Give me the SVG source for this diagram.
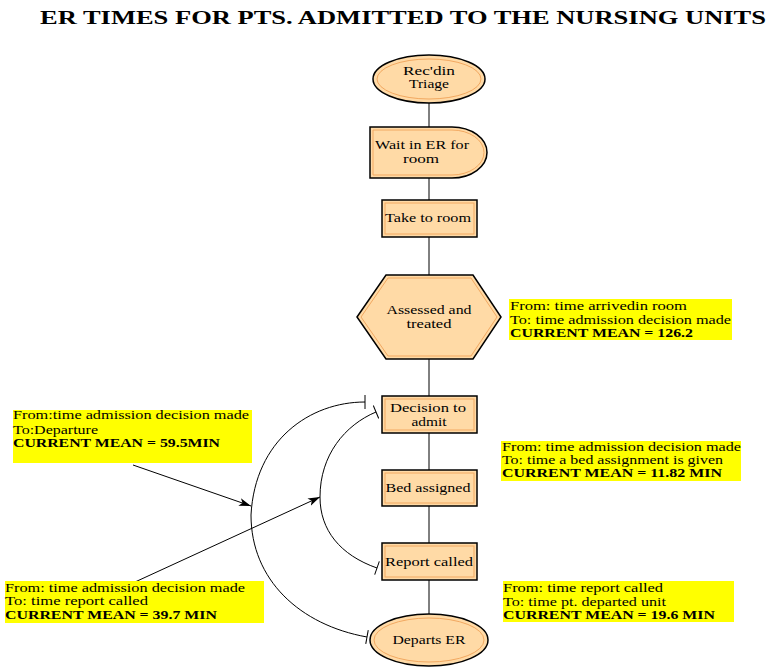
<svg xmlns="http://www.w3.org/2000/svg" width="776" height="672" viewBox="0 0 776 672">
<style>
.shape{fill:#FFDAA6;stroke:#000;stroke-width:1.5}
.inner{fill:none;stroke:#F2A860;stroke-width:1}
.nt{font-family:"Liberation Serif","Times New Roman",serif;font-size:12.5px;fill:#000;text-anchor:middle}
.bt{font-family:"Liberation Serif","Times New Roman",serif;font-size:12px;fill:#000}
.bb{font-family:"Liberation Serif","Times New Roman",serif;font-size:12px;font-weight:bold;fill:#000}
.yb{fill:#FFFF00}
.conn{fill:none;stroke:#000;stroke-width:1}
</style>
<defs>
<marker id="arr" markerUnits="userSpaceOnUse" markerWidth="14" markerHeight="10" refX="12" refY="4" orient="auto">
<path d="M0,0 L12,4 L0,8 L3,4 Z" fill="#000"/>
</marker>
<marker id="tee" markerUnits="userSpaceOnUse" markerWidth="4" markerHeight="14" refX="1" refY="7" orient="auto">
<path d="M1,0 L1,14" stroke="#000" stroke-width="1"/>
</marker>
</defs>
<rect width="776" height="672" fill="#fff"/>
<text x="403" y="24" font-family="Liberation Serif,'Times New Roman',serif" font-size="19" font-weight="bold" text-anchor="middle" textLength="726" lengthAdjust="spacingAndGlyphs">ER TIMES FOR PTS. ADMITTED TO THE NURSING UNITS</text>

<g id="connectors">
<line class="conn" x1="429" y1="103" x2="429" y2="127"/>
<line class="conn" x1="429" y1="178" x2="429" y2="200"/>
<line class="conn" x1="429" y1="237" x2="429" y2="275"/>
<line class="conn" x1="429" y1="359" x2="429" y2="396"/>
<line class="conn" x1="429" y1="433" x2="429" y2="470"/>
<line class="conn" x1="429" y1="506" x2="429" y2="543"/>
<line class="conn" x1="429" y1="580" x2="429" y2="614"/>
<path class="conn" d="M365,402 C310,402 255,440 251,515 C251,580 300,625 367,637" marker-start="url(#tee)" marker-end="url(#tee)"/>
<path class="conn" d="M376,412 C345,425 320,455 320,497 C320,530 340,555 377,568" marker-start="url(#tee)" marker-end="url(#tee)"/>
<line class="conn" x1="133" y1="465" x2="251" y2="506" marker-end="url(#arr)"/>
<line class="conn" x1="135" y1="582" x2="320" y2="497" marker-end="url(#arr)"/>
</g>

<g id="recd-triage">
<ellipse class="shape" cx="429" cy="79" rx="56" ry="24"/>
<ellipse class="inner" cx="429" cy="79" rx="52" ry="20"/>
<text class="nt" x="429" y="75" textLength="52" lengthAdjust="spacingAndGlyphs">Rec'din</text>
<text class="nt" x="429" y="88" textLength="40" lengthAdjust="spacingAndGlyphs">Triage</text>
</g>

<g id="wait-er">
<path class="shape" d="M370,127 H452 A35,25.5 0 0 1 452,178 H370 Z"/>
<path class="inner" d="M373,130 H452 A32,22.5 0 0 1 452,175 H373 Z"/>
<text class="nt" x="422" y="149" textLength="94" lengthAdjust="spacingAndGlyphs">Wait in ER for</text>
<text class="nt" x="421" y="163" textLength="36" lengthAdjust="spacingAndGlyphs">room</text>
</g>

<g id="take-room">
<rect class="shape" x="382" y="200" width="95" height="37"/>
<rect class="inner" x="385" y="203" width="89" height="31"/>
<text class="nt" x="428" y="222" textLength="86" lengthAdjust="spacingAndGlyphs">Take to room</text>
</g>

<g id="assessed">
<polygon class="shape" points="357,317 386,275 473,275 501,317 473,359 386,359"/>
<polygon class="inner" points="361,317 388,278 471,278 497,317 471,356 388,356"/>
<text class="nt" x="429" y="314" textLength="85" lengthAdjust="spacingAndGlyphs">Assessed and</text>
<text class="nt" x="429" y="328" textLength="45" lengthAdjust="spacingAndGlyphs">treated</text>
</g>

<g id="decision">
<rect class="shape" x="382" y="396" width="95" height="37"/>
<rect class="inner" x="385" y="399" width="89" height="31"/>
<text class="nt" x="428" y="412" textLength="76" lengthAdjust="spacingAndGlyphs">Decision to</text>
<text class="nt" x="429" y="426" textLength="35" lengthAdjust="spacingAndGlyphs">admit</text>
</g>

<g id="bed">
<rect class="shape" x="382" y="470" width="95" height="36"/>
<rect class="inner" x="385" y="473" width="89" height="30"/>
<text class="nt" x="428" y="492" textLength="85" lengthAdjust="spacingAndGlyphs">Bed assigned</text>
</g>

<g id="report">
<rect class="shape" x="382" y="543" width="95" height="37"/>
<rect class="inner" x="385" y="546" width="89" height="31"/>
<text class="nt" x="429" y="566" textLength="88" lengthAdjust="spacingAndGlyphs">Report called</text>
</g>

<g id="departs">
<ellipse class="shape" cx="429" cy="640" rx="59" ry="26"/>
<ellipse class="inner" cx="429" cy="640" rx="55" ry="22"/>
<text class="nt" x="429" y="644" textLength="73" lengthAdjust="spacingAndGlyphs">Departs ER</text>
</g>

<g id="note-assessed">
<rect class="yb" x="509" y="299" width="223" height="41"/>
<text class="bt" x="510" y="310" textLength="177" lengthAdjust="spacingAndGlyphs">From: time arrivedin room</text>
<text class="bt" x="510" y="324" textLength="221" lengthAdjust="spacingAndGlyphs">To: time admission decision made</text>
<text class="bb" x="510" y="337" textLength="183" lengthAdjust="spacingAndGlyphs">CURRENT MEAN = 126.2</text>
</g>

<g id="note-bed">
<rect class="yb" x="501" y="441" width="240" height="40"/>
<text class="bt" x="502" y="451" textLength="239" lengthAdjust="spacingAndGlyphs">From: time admission decision made</text>
<text class="bt" x="502" y="464" textLength="221" lengthAdjust="spacingAndGlyphs">To: time a bed assignment is given</text>
<text class="bb" x="502" y="477" textLength="220" lengthAdjust="spacingAndGlyphs">CURRENT MEAN = 11.82 MIN</text>
</g>

<g id="note-departure">
<rect class="yb" x="503" y="581" width="231" height="41"/>
<text class="bt" x="503" y="592" textLength="160" lengthAdjust="spacingAndGlyphs">From: time report called</text>
<text class="bt" x="503" y="606" textLength="163" lengthAdjust="spacingAndGlyphs">To: time pt. departed unit</text>
<text class="bb" x="503" y="619" textLength="212" lengthAdjust="spacingAndGlyphs">CURRENT MEAN = 19.6 MIN</text>
</g>

<g id="note-left-top">
<rect class="yb" x="13" y="410" width="239" height="53"/>
<text class="bt" x="13" y="419" textLength="236" lengthAdjust="spacingAndGlyphs">From:time admission decision made</text>
<text class="bt" x="13" y="434" textLength="85" lengthAdjust="spacingAndGlyphs">To:Departure</text>
<text class="bb" x="13" y="447" textLength="207" lengthAdjust="spacingAndGlyphs">CURRENT MEAN = 59.5MIN</text>
</g>

<g id="note-left-bottom">
<rect class="yb" x="5" y="581" width="259" height="42"/>
<text class="bt" x="5" y="592" textLength="240" lengthAdjust="spacingAndGlyphs">From: time admission decision made</text>
<text class="bt" x="5" y="605" textLength="143" lengthAdjust="spacingAndGlyphs">To: time report called</text>
<text class="bb" x="5" y="619" textLength="212" lengthAdjust="spacingAndGlyphs">CURRENT MEAN = 39.7 MIN</text>
</g>
</svg>
